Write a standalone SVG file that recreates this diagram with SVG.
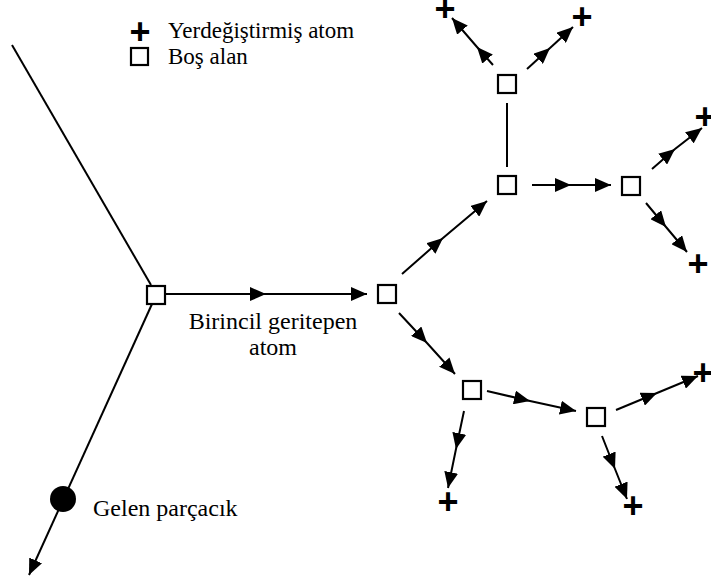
<svg xmlns="http://www.w3.org/2000/svg" width="711" height="585" viewBox="0 0 711 585">
  <style>
    .vac { fill: #fff; stroke: #000; stroke-width: 2.2; }
    .trk { fill: none; stroke: #000; stroke-width: 2; }
    .arr { fill: none; stroke: #000; stroke-width: 2; marker-mid: url(#head); marker-end: url(#head); }
    .lbl { font-family: "Liberation Serif", "DejaVu Serif", "Times New Roman", serif; font-size: 24px; fill: #000; }
    .leg { font-size: 23px; }
    .plus { font-family: "Liberation Sans", "DejaVu Sans", Arial, sans-serif; font-weight: bold; font-size: 36px; fill: #000; text-anchor: middle; }
  </style>
  <defs>
    <marker id="head" markerUnits="userSpaceOnUse" markerWidth="16" markerHeight="14" refX="16" refY="7" orient="auto">
      <path d="M0,0 L16,7 L0,14 z" fill="#000"/>
    </marker>
  </defs>

  <!-- legend -->
  <g id="legend">
    <text class="plus" x="140" y="44">+</text>
    <text class="lbl leg" x="168" y="38">Yerdeğiştirmiş atom</text>
    <rect class="vac" x="131" y="48" width="17" height="17"/>
    <text class="lbl leg" x="168" y="64">Boş alan</text>
  </g>

  <!-- tracks and cascade arrows -->
  <g id="connectors">
    <line class="trk" x1="12" y1="45" x2="151" y2="285"/>
    <line class="trk" x1="152" y1="304" x2="29" y2="575" marker-end="url(#head)"/>
    <path class="arr" d="M165,294 L266,294 L367,294"/>
    <path class="arr" d="M402,274 L443,238 L487,201"/>
    <path class="arr" d="M399,313 L427,343 L455,374"/>
    <line class="trk" x1="507" y1="103" x2="507" y2="167"/>
    <path class="arr" d="M493,65 L477,47 L452,18"/>
    <path class="arr" d="M527,69 L550,48 L573,27"/>
    <path class="arr" d="M532,185 L571,185 L611,185"/>
    <path class="arr" d="M652,169 L675,149 L702,128"/>
    <path class="arr" d="M646,203 L666,227 L687,252"/>
    <path class="arr" d="M487,391 L530,401 L576,411"/>
    <path class="arr" d="M464,411 L456,449 L448,488"/>
    <path class="arr" d="M616,410 L657,393 L698,376"/>
    <path class="arr" d="M602,436 L615,469 L627,499"/>
  </g>

  <!-- vacancies -->
  <g id="v1"><rect class="vac" x="147" y="286" width="18" height="18"/></g>
  <g id="v2"><rect class="vac" x="378" y="285" width="18" height="18"/></g>
  <g id="v3"><rect class="vac" x="498" y="176" width="18" height="18"/></g>
  <g id="v4"><rect class="vac" x="498" y="75" width="18" height="18"/></g>
  <g id="v5"><rect class="vac" x="622" y="177" width="18" height="18"/></g>
  <g id="v6"><rect class="vac" x="463" y="381" width="18" height="18"/></g>
  <g id="v7"><rect class="vac" x="587" y="408" width="18" height="18"/></g>

  <!-- interstitial atoms -->
  <g id="i1"><text class="plus" x="445" y="21">+</text></g>
  <g id="i2"><text class="plus" x="582" y="29">+</text></g>
  <g id="i3"><text class="plus" x="705" y="129">+</text></g>
  <g id="i4"><text class="plus" x="698" y="276">+</text></g>
  <g id="i5"><text class="plus" x="703" y="385">+</text></g>
  <g id="i6"><text class="plus" x="448" y="514">+</text></g>
  <g id="i7"><text class="plus" x="633" y="518">+</text></g>

  <!-- incoming particle -->
  <g id="particle">
    <circle cx="63" cy="499" r="13" fill="#000"/>
    <text class="lbl" x="93" y="516">Gelen parçacık</text>
  </g>

  <!-- primary knock-on label -->
  <g id="pka-label">
    <text class="lbl" x="273" y="329" text-anchor="middle">Birincil geritepen</text>
    <text class="lbl" x="273" y="355" text-anchor="middle">atom</text>
  </g>
</svg>
